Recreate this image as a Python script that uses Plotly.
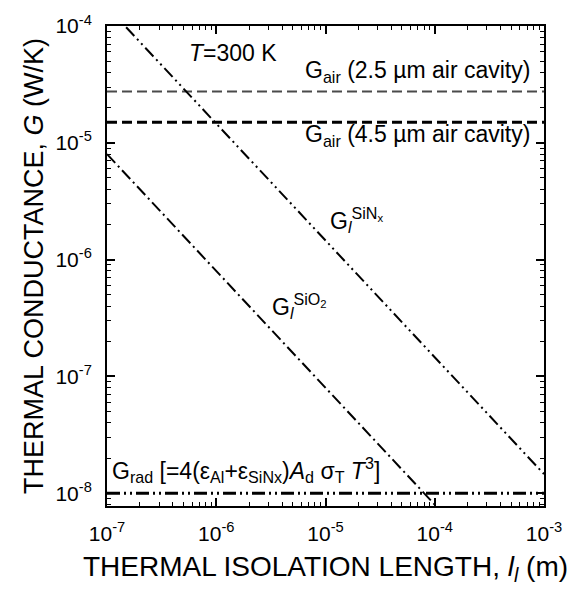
import plotly.graph_objects as go

# Thermal isolation length l_l (m): end points of each curve
length_m = [1e-7, 1e-3]

# Thermal conductance G (W/K) at those lengths
g_air_2p5um = [2.75e-5, 2.75e-5]
g_air_4p5um = [1.5e-5, 1.5e-5]
g_leg_sinx = [1.46e-4, 1.46e-8]
g_leg_sio2 = [8.0e-6, 8.0e-10]
g_rad = [1.0e-8, 1.0e-8]

# Tick labels
x_tick_vals = [1e-7, 1e-6, 1e-5, 1e-4, 1e-3]
x_tick_text = ["10<sup>-7</sup>", "10<sup>-6</sup>", "10<sup>-5</sup>",
               "10<sup>-4</sup>", "10<sup>-3</sup>"]
y_tick_vals = [1e-8, 1e-7, 1e-6, 1e-5, 1e-4]
y_tick_text = ["10<sup>-8</sup>", "10<sup>-7</sup>", "10<sup>-6</sup>",
               "10<sup>-5</sup>", "10<sup>-4</sup>"]

FONT = "Liberation Sans, Arial, sans-serif"

fig = go.Figure()

fig.add_trace(go.Scatter(x=length_m, y=g_air_2p5um, mode="lines",
                         line=dict(color="#4a4a4a", width=2.2, dash="10px,5px")))
fig.add_trace(go.Scatter(x=length_m, y=g_air_4p5um, mode="lines",
                         line=dict(color="black", width=2.8, dash="10px,5px")))
fig.add_trace(go.Scatter(x=length_m, y=g_leg_sinx, mode="lines",
                         line=dict(color="black", width=2,
                                   dash="12px,4px,2px,4px,2px,4px")))
fig.add_trace(go.Scatter(x=length_m, y=g_leg_sio2, mode="lines",
                         line=dict(color="black", width=2,
                                   dash="12px,4px,2px,4px")))
fig.add_trace(go.Scatter(x=length_m, y=g_rad, mode="lines",
                         line=dict(color="black", width=3,
                                   dash="13px,4px,2px,4px,2px,4px")))

label_font = dict(family=FONT, size=23, color="black")

annotations = [
    dict(x=-6.267, y=-4.234, text="<i>T</i>=300 K", xanchor="left"),
    dict(x=-3.11, y=-4.393,
         text="G<sub>air</sub> (2.5 \u00b5m air cavity)", xanchor="right"),
    dict(x=-3.11, y=-4.94,
         text="G<sub>air</sub> (4.5 \u00b5m air cavity)", xanchor="right"),
    dict(x=-4.977, y=-5.66,
         text="G<sub><i>l</i></sub><sup>SiN<sub>x</sub></sup>", xanchor="left"),
    dict(x=-5.508, y=-6.40,
         text="G<sub><i>l</i></sub><sup>SiO<sub>2</sub></sup>", xanchor="left"),
    dict(x=-6.973, y=-7.80,
         text="G<sub>rad</sub> [=4(\u03b5<sub>Al</sub>+\u03b5<sub>SiNx</sub>)"
              "<i>A</i><sub>d</sub> \u03c3<sub>T</sub> <i>T</i><sup>3</sup>]",
         xanchor="left"),
]
for a in annotations:
    a.update(xref="x", yref="y", yanchor="middle", showarrow=False,
             font=label_font)

axis_common = dict(
    type="log",
    showline=True, linecolor="black", linewidth=2,
    mirror="ticks",
    ticks="inside", ticklen=8, tickwidth=1.5, tickcolor="black",
    minor=dict(ticks="inside", ticklen=4, tickwidth=1, tickcolor="black",
               dtick="D1", showgrid=False),
    showgrid=False, zeroline=False,
    tickfont=dict(family=FONT, size=21, color="black"),
)

fig.update_layout(
    width=574, height=601,
    margin=dict(l=107, r=30, t=15, b=95),
    paper_bgcolor="white", plot_bgcolor="white",
    showlegend=False,
    annotations=annotations,
    xaxis=dict(axis_common, range=[-7, -3],
               tickvals=x_tick_vals, ticktext=x_tick_text,
               ticklabelstandoff=8,
               title=dict(text="THERMAL ISOLATION LENGTH, <i>l<sub>l</sub></i> (m)",
                          font=dict(family=FONT, size=28, color="black"),
                          standoff=12)),
    yaxis=dict(axis_common, range=[-8.109, -4],
               tickvals=y_tick_vals, ticktext=y_tick_text,
               ticklabelstandoff=9,
               title=dict(text="THERMAL CONDUCTANCE, <i>G</i> (W/K)",
                          font=dict(family=FONT, size=27, color="black"),
                          standoff=4)),
)

fig.write_html("out.html")
